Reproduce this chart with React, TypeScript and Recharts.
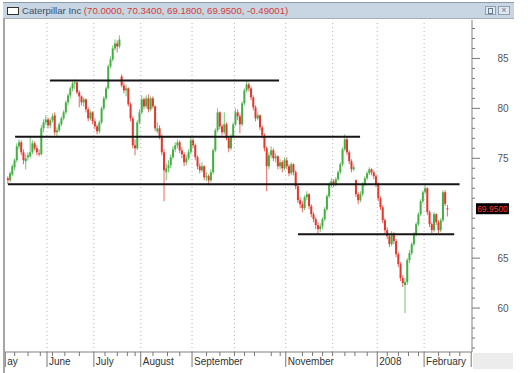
import { Bar, ComposedChart, ReferenceLine, XAxis, YAxis } from "recharts";

// daily OHLC, May 2007 - Feb 2008 (one row per month)
const opens = [
  73.0, 72.8, 73.4, 74.1, 74.8, 76.2, 76.6, 75.6, 74.7, 75.1, 75.2, 75.6, 76.5, 76.0, 75.5, 75.4, 78.0, 78.6,
  78.9, 78.3, 78.8, 79.3, 77.6, 77.8, 78.4, 79.0, 79.6, 80.6, 81.3, 82.0, 82.5, 82.6, 81.6, 81.2, 80.6, 80.9, 79.9, 79.0, 79.6,
  78.7, 78.2, 77.7, 78.6, 80.0, 81.0, 82.0, 84.2, 84.9, 86.0, 86.5, 86.2, 83.2, 82.3, 81.8, 82.0, 80.4, 79.0, 76.3, 76.0, 78.6,
  79.6, 80.9, 80.2, 81.0, 79.9, 81.0, 80.2, 77.7, 78.0, 77.2, 75.6, 73.6, 74.0, 74.3, 75.1, 75.9, 76.3, 76.6, 75.8, 75.4, 74.6, 75.0, 75.6,
  76.8, 76.3, 75.1, 74.2, 73.8, 74.2, 73.1, 73.2, 72.8, 73.6, 75.8, 77.8, 79.6, 78.2, 77.6, 78.4, 77.0, 76.0, 77.2,
  78.4, 79.6, 79.2, 78.4, 80.5, 81.8, 82.4, 82.0, 81.1, 80.1, 79.0, 79.3, 78.1, 77.3, 76.0, 74.2, 75.3, 75.8, 75.0, 75.2, 74.2, 74.6, 74.0,
  74.8, 74.2, 73.5, 74.4, 73.6, 72.2, 70.8, 70.4, 70.0, 71.1, 71.4, 70.2, 69.4, 68.9, 68.3, 67.9, 68.2, 68.9, 69.9, 71.2, 72.4,
  72.7, 72.4, 72.9, 73.6, 74.4, 75.9, 76.9, 75.6, 74.7, 73.9, 72.8, 71.4, 70.8, 71.4, 72.4, 73.0, 73.5, 73.9, 73.6, 73.2,
  72.4, 71.0, 70.1, 68.8, 67.8, 67.2, 66.4, 67.4, 66.7, 65.4, 64.4, 63.0, 62.3, 62.6, 64.8, 65.5, 66.4, 67.4, 68.4, 69.4, 70.7,
  71.6, 72.0, 69.6, 68.4, 67.8, 69.4, 68.6, 67.8, 68.8, 71.6, 70.0,
];

const highs = [
  73.2, 73.7, 74.4, 75.0, 76.5, 76.9, 76.8, 75.9, 75.4, 75.6, 77.1, 76.8, 76.7, 76.3, 75.9, 78.3, 78.9, 79.3,
  79.1, 79.0, 79.5, 79.6, 78.1, 78.6, 79.2, 79.8, 80.8, 81.5, 82.2, 82.7, 82.9, 82.7, 81.8, 81.3, 81.1, 81.0, 80.1, 79.8, 79.7,
  79.0, 78.4, 78.8, 80.2, 81.2, 82.2, 84.4, 85.2, 86.3, 86.9, 86.8, 87.3, 83.4, 82.6, 82.4, 82.1, 80.6, 79.2, 76.9, 78.8, 79.9,
  81.3, 81.1, 81.3, 81.4, 81.2, 81.2, 80.3, 78.6, 78.3, 77.4, 75.9, 74.5, 74.8, 75.4, 76.2, 76.6, 76.9, 76.8, 76.1, 75.6, 75.3, 75.9, 77.1,
  77.0, 76.5, 75.3, 74.5, 74.6, 74.3, 73.6, 73.4, 73.9, 76.0, 78.0, 80.0, 79.7, 78.4, 79.6, 78.6, 77.2, 77.4, 78.6,
  80.0, 79.9, 79.4, 80.7, 82.0, 82.8, 82.6, 82.2, 81.3, 80.3, 79.6, 79.4, 78.3, 77.5, 76.2, 75.6, 76.2, 76.0, 75.5, 75.3, 74.9, 74.8, 75.1,
  75.1, 74.4, 74.6, 74.5, 73.8, 72.4, 71.1, 70.7, 71.3, 71.7, 71.5, 70.4, 69.6, 69.1, 68.6, 68.5, 69.1, 70.1, 71.4, 72.6, 73.0,
  72.9, 73.1, 73.8, 74.6, 76.1, 77.4, 77.2, 75.8, 74.9, 74.4, 72.9, 71.6, 71.7, 72.6, 73.2, 73.7, 74.1, 74.0, 73.8, 73.4,
  72.6, 71.2, 70.3, 69.0, 68.1, 67.4, 67.7, 67.6, 66.9, 65.6, 64.6, 63.3, 63.0, 65.0, 65.8, 66.6, 67.6, 68.6, 69.6, 70.9, 71.8,
  72.4, 72.1, 69.8, 68.6, 69.6, 69.5, 68.8, 69.0, 71.8, 71.8, 70.34,
];

const lows = [
  72.4, 72.6, 73.2, 73.8, 74.6, 75.9, 75.3, 74.4, 73.9, 74.8, 75.0, 75.4, 75.8, 75.3, 75.2, 75.3, 77.6, 78.3,
  78.0, 78.0, 78.6, 77.3, 77.2, 77.6, 78.2, 78.8, 79.4, 80.3, 81.0, 81.7, 81.9, 81.4, 80.1, 80.3, 80.2, 79.6, 78.7, 78.8, 78.4,
  77.9, 77.4, 77.5, 78.4, 79.8, 80.8, 81.9, 84.0, 84.7, 85.8, 85.6, 86.0, 82.1, 81.5, 81.2, 80.2, 78.7, 76.0, 75.3, 75.8, 78.4,
  79.4, 79.9, 80.0, 79.6, 79.7, 80.0, 77.7, 77.5, 76.9, 75.3, 70.7, 72.8, 73.6, 74.0, 74.9, 75.6, 76.0, 75.5, 75.0, 74.2, 74.3, 74.8, 75.4,
  76.0, 74.8, 73.9, 73.5, 73.6, 72.8, 72.7, 72.3, 72.6, 73.4, 75.6, 77.6, 77.9, 77.3, 77.4, 76.8, 75.6, 75.8, 77.0,
  78.2, 78.8, 77.5, 78.2, 80.3, 81.6, 81.7, 80.8, 79.8, 78.7, 78.8, 77.8, 77.0, 75.7, 71.7, 73.9, 75.0, 74.7, 74.6, 73.9, 73.9, 73.6, 73.8,
  73.9, 73.2, 73.3, 73.3, 71.9, 70.5, 70.0, 69.6, 69.8, 70.8, 69.9, 69.1, 68.6, 67.9, 67.4, 67.6, 67.9, 68.7, 69.7, 71.0, 72.1,
  72.1, 72.2, 72.7, 73.4, 74.2, 75.7, 75.3, 74.4, 73.6, 73.7, 71.1, 70.4, 70.6, 71.2, 72.2, 72.8, 73.3, 73.3, 72.9, 72.1,
  70.7, 69.8, 68.5, 67.5, 66.9, 66.1, 66.2, 66.4, 65.1, 64.1, 62.7, 62.1, 59.5, 62.3, 64.5, 65.3, 66.2, 67.2, 68.2, 69.2, 70.5,
  71.4, 69.3, 68.1, 67.5, 67.6, 68.3, 67.5, 67.6, 68.6, 70.2, 69.18,
];

const closes = [
  72.8, 73.5, 74.2, 74.8, 76.2, 76.6, 75.6, 74.8, 75.0, 75.3, 75.6, 76.5, 76.0, 75.6, 75.4, 78.0, 78.6, 78.9,
  78.3, 78.8, 79.2, 77.6, 77.8, 78.4, 79.0, 79.6, 80.6, 81.3, 82.0, 82.5, 82.6, 81.6, 81.2, 80.6, 80.9, 79.9, 79.0, 79.6, 78.7,
  78.2, 77.7, 78.6, 80.0, 81.0, 82.0, 84.2, 84.9, 86.0, 86.5, 86.2, 86.9, 82.3, 81.8, 82.0, 80.4, 79.0, 76.3, 76.0, 78.6, 79.6,
  80.9, 80.2, 81.0, 79.9, 81.0, 80.2, 78.0, 78.0, 77.2, 75.6, 73.8, 74.0, 74.3, 75.1, 75.9, 76.3, 76.6, 75.8, 75.4, 74.6, 75.0, 75.6, 76.8,
  76.3, 75.1, 74.2, 73.8, 74.2, 73.1, 73.2, 72.8, 73.6, 75.8, 77.8, 79.6, 78.2, 77.6, 78.4, 77.0, 76.0, 77.2, 78.4,
  79.6, 79.2, 78.4, 80.5, 81.8, 82.4, 82.0, 81.1, 80.1, 79.0, 79.3, 78.1, 77.3, 76.0, 74.2, 75.3, 75.8, 75.0, 75.2, 74.2, 74.6, 74.0, 74.8,
  74.2, 73.5, 74.4, 73.6, 72.2, 70.8, 70.4, 70.0, 71.1, 71.4, 70.2, 69.4, 68.9, 68.3, 67.9, 68.2, 68.9, 69.9, 71.2, 72.4, 72.7,
  72.4, 72.9, 73.6, 74.4, 75.9, 76.9, 75.6, 74.7, 73.9, 74.1, 71.4, 70.8, 71.4, 72.4, 73.0, 73.5, 73.9, 73.6, 73.2, 72.4,
  71.0, 70.1, 68.8, 67.8, 67.2, 66.4, 67.4, 66.7, 65.4, 64.4, 63.0, 62.5, 62.6, 64.8, 65.5, 66.4, 67.4, 68.4, 69.4, 70.7, 71.6,
  72.0, 69.6, 68.4, 67.8, 69.4, 68.6, 67.8, 68.8, 71.6, 70.44, 69.95,
];

// month boundaries (in trading-day index) and their labels
const monthTicks = [
  { i: -1.2, label: "ay" },
  { i: 17.5, label: "June" },
  { i: 38.5, label: "July" },
  { i: 59.5, label: "August" },
  { i: 82.5, label: "September" },
  { i: 124.5, label: "November" },
  { i: 165.5, label: "2008" },
  { i: 186.5, label: "February" },
  { i: 207.6, label: "" },
];
const monthLines = [17.5, 38.5, 59.5, 82.5, 101.5, 124.5, 145.5, 165.5, 186.5];
const weekTicks = [
  3, 9, 14.5, 20, 25.5, 32, 43.5, 49, 53.5, 57, 65, 71.5, 77, 89, 95, 101.5, 106, 110.5, 118, 122,
  132, 136.5, 141, 145.5, 151, 155.5, 161, 170, 175, 179.5, 184, 193, 198, 202.5,
];

// hand drawn support / resistance lines
const levels = [
  { level: 82.8, from: 18.8, to: 121.5 },
  { level: 77.15, from: 3.2, to: 157.8 },
  { level: 72.4, from: 0, to: 202.4 },
  { level: 67.4, from: 130, to: 200 },
];

const priceLabels = [60, 65, 75, 80, 85];
const lastClose = 69.95;
const title = "Caterpillar Inc";
const quote = "(70.0000, 70.3400, 69.1800, 69.9500, -0.49001)";

const GREEN = "#44b044";
const RED = "#e3372e";

const rows = closes.map((c, i) => ({ i, o: opens[i], h: highs[i], l: lows[i], c }));

const yTicks: number[] = [];
for (let v = 56; v <= 88; v++) if (v !== 70) yTicks.push(v);
yTicks.push(lastClose);

const xTicks = [...monthTicks.map((m) => m.i), ...weekTicks];

function Candle(props: any) {
  const { x, y, width, height, payload } = props;
  if (!payload || isNaN(y) || isNaN(height)) return null;
  const { o, h, l, c } = payload;
  const top = Math.min(y, y + height);
  const bottom = Math.max(y, y + height);
  const span = h - l || 1;
  const py = (v: number) => top + ((h - v) / span) * (bottom - top);
  const cx = x + width / 2;
  const color = c >= o ? GREEN : RED;
  const b1 = py(Math.max(o, c));
  const b2 = py(Math.min(o, c));
  return (
    <g>
      <line x1={cx} x2={cx} y1={top} y2={bottom} stroke={color} strokeWidth={1} strokeOpacity={0.75} />
      <rect x={cx - 1} y={b1} width={2} height={Math.max(1, b2 - b1)} fill={color} />
    </g>
  );
}

function XTick(props: any) {
  const { x, y, payload } = props;
  const m = monthTicks.find((d) => d.i === payload.value);
  if (m) {
    return (
      <g>
        <line x1={x} x2={x} y1={y} y2={y + 15} stroke="#777" />
        <text x={x + 2} y={y + 13} fontSize={10} fill="#333">
          {m.label}
        </text>
      </g>
    );
  }
  return <line x1={x} x2={x} y1={y} y2={y + 4} stroke="#777" />;
}

function YTick(props: any) {
  const { x, y, payload } = props;
  const v = payload.value;
  if (v === lastClose) {
    return (
      <g>
        <rect x={x + 4} y={y - 5.5} width={33} height={11} fill="#000" />
        <text x={x + 20.5} y={y + 3} textAnchor="middle" fontSize={8.5} fill="#ff3b2f">
          {lastClose.toFixed(4)}
        </text>
      </g>
    );
  }
  if (priceLabels.includes(v)) {
    return (
      <g>
        <line x1={x} x2={x + 8} y1={y} y2={y} stroke="#777" />
        <text x={x + 31} y={y + 3.5} textAnchor="middle" fontSize={10} fill="#555">
          {v}
        </text>
      </g>
    );
  }
  return <line x1={x} x2={x + 3} y1={y} y2={y} stroke="#777" />;
}

export default function App() {
  return (
    <div
      style={{
        position: "absolute",
        left: 0,
        top: 0,
        width: 530,
        height: 373,
        overflow: "hidden",
        background: "#fff",
        fontFamily: '"Liberation Sans", Arial, sans-serif',
      }}
    >
      <ComposedChart width={530} height={373} data={rows} margin={{ top: 20, right: 0, bottom: 0, left: 5 }}>
        <XAxis
          dataKey="i"
          type="number"
          domain={[-1.33, 207.97]}
          allowDataOverflow
          ticks={xTicks}
          interval={0}
          tick={<XTick />}
          tickLine={false}
          tickSize={0}
          tickMargin={0}
          height={21}
          axisLine={{ stroke: "#808080" }}
        />
        <YAxis
          orientation="right"
          type="number"
          domain={[55.6, 88.85]}
          allowDataOverflow
          ticks={yTicks}
          interval={0}
          tick={<YTick />}
          tickLine={false}
          tickSize={0}
          tickMargin={0}
          width={58}
          axisLine={{ stroke: "#808080" }}
        />
        {monthLines.map((v) => (
          <ReferenceLine key={v} x={v} stroke="#b5b5b5" strokeDasharray="1 3" />
        ))}
        <Bar dataKey={(d: any) => [d.l, d.h]} barSize={2} shape={Candle} isAnimationActive={false} />
        {levels.map((d) => (
          <ReferenceLine
            key={d.level}
            segment={[
              { x: d.from, y: d.level },
              { x: d.to, y: d.level },
            ]}
            stroke="#151515"
            strokeWidth={2}
          />
        ))}
      </ComposedChart>

      {/* window frame */}
      <div style={{ position: "absolute", left: 3, top: 2, width: 2, height: 371, background: "#a6a6a6" }} />
      <div style={{ position: "absolute", left: 473, top: 353, width: 40, height: 16, background: "#ececec" }} />
      <div
        style={{
          position: "absolute",
          left: 3,
          top: 2,
          width: 511,
          height: 17,
          boxSizing: "border-box",
          background: "#c8d5e2",
          borderTop: "1px solid #8c9cad",
          borderBottom: "1px solid #a3aeb9",
          fontSize: 9.6,
          lineHeight: "15px",
          whiteSpace: "nowrap",
        }}
      >
        <div
          style={{
            position: "absolute",
            left: 4,
            top: 4,
            width: 12,
            height: 8,
            boxSizing: "border-box",
            border: "1px solid #333",
            background: "#fff",
          }}
        />
        <span style={{ position: "absolute", left: 19, top: 0, color: "#3d4f6a" }}>
          {title} <span style={{ color: "#d43a3a" }}>{quote}</span>
        </span>
        <div
          style={{
            position: "absolute",
            left: 482,
            top: 3,
            width: 11,
            height: 9,
            boxSizing: "border-box",
            border: "1px solid #8f9fb0",
            background: "#dfe7ef",
          }}
        >
          <div style={{ margin: "1px 2px", height: 4, border: "1px solid #6a7888" }} />
        </div>
        <div
          style={{
            position: "absolute",
            left: 495,
            top: 3,
            width: 12,
            height: 9,
            boxSizing: "border-box",
            border: "1px solid #8f9fb0",
            background: "#dfe7ef",
            color: "#6a7888",
            fontSize: 9,
            lineHeight: "7px",
            textAlign: "center",
          }}
        >
          ×
        </div>
      </div>
    </div>
  );
}
